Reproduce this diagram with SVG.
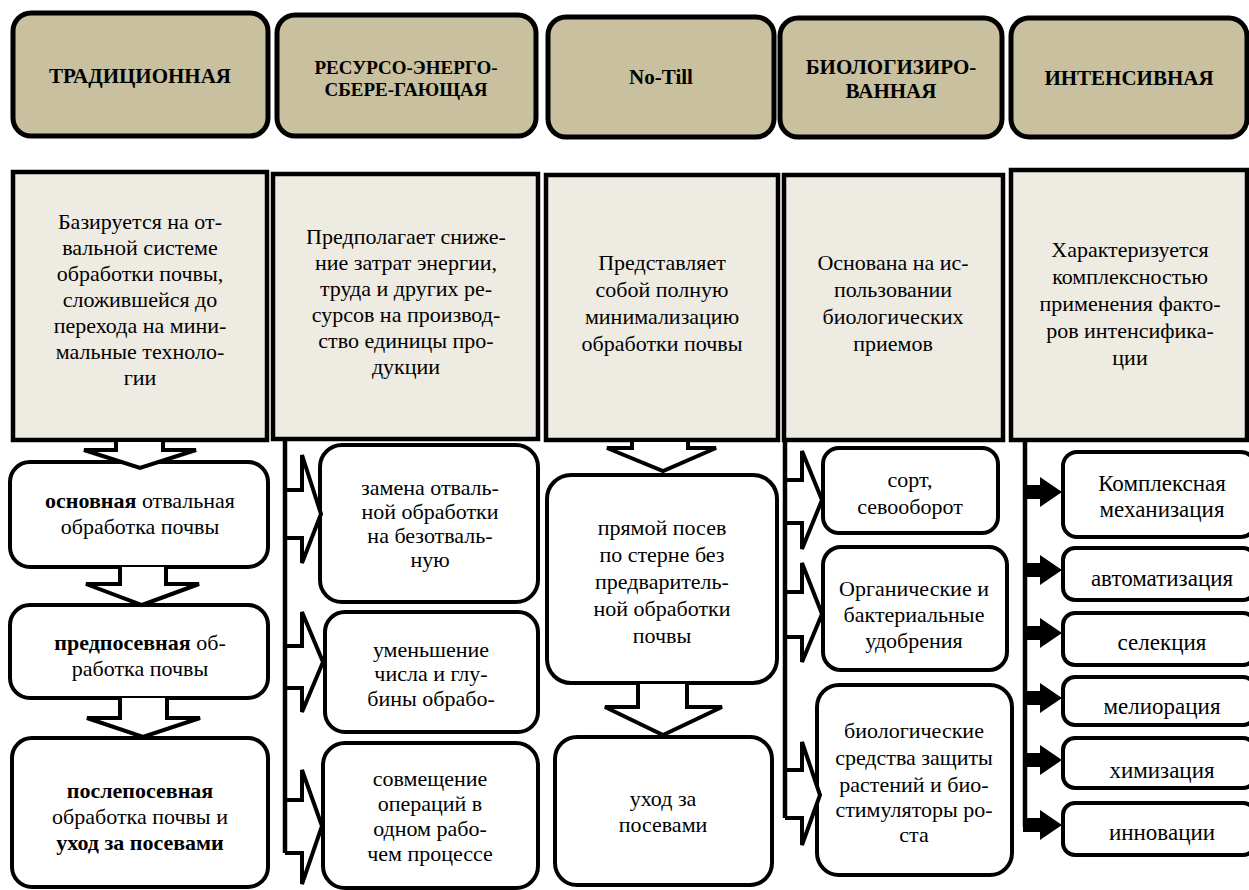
<svg xmlns="http://www.w3.org/2000/svg" width="1249" height="890" viewBox="0 0 1249 890">
<defs>
<style>
.hdr{fill:#c8c09e;stroke:#000;stroke-width:5}
.desc{fill:#eeebe3;stroke:#000;stroke-width:4.5}
.box{fill:#fff;stroke:#000;stroke-width:4}
.harr{fill:#fff;stroke:#000;stroke-width:4}
.ln{fill:none;stroke:#000;stroke-width:4.5}
.sarr{fill:#000}
</style>
</defs>
<rect width="1249" height="890" fill="#fff"/>
<g id="h1"><rect class="hdr" x="13" y="13" width="255" height="123" rx="18"/><text style="font-family:'Times New Roman','Liberation Serif',Tinos,serif;font-weight:bold;font-size:21px" text-anchor="middle" x="140" y="83">ТРАДИЦИОННАЯ</text></g>
<g id="h2"><rect class="hdr" x="277" y="15" width="259" height="121" rx="18"/><text style="font-family:'Times New Roman','Liberation Serif',Tinos,serif;font-weight:bold;font-size:19px" text-anchor="middle" x="406" y="74">РЕСУРСО-ЭНЕРГО-</text><text style="font-family:'Times New Roman','Liberation Serif',Tinos,serif;font-weight:bold;font-size:19px" text-anchor="middle" x="406" y="96">СБЕРЕ-ГАЮЩАЯ</text></g>
<g id="h3"><rect class="hdr" x="548" y="17" width="226" height="120" rx="18"/><text style="font-family:'Times New Roman','Liberation Serif',Tinos,serif;font-weight:bold;font-size:21px" text-anchor="middle" x="661" y="84">No-Till</text></g>
<g id="h4"><rect class="hdr" x="780" y="18" width="222" height="119" rx="18"/><text style="font-family:'Times New Roman','Liberation Serif',Tinos,serif;font-weight:bold;font-size:21px" text-anchor="middle" x="891" y="74">БИОЛОГИЗИРО-</text><text style="font-family:'Times New Roman','Liberation Serif',Tinos,serif;font-weight:bold;font-size:21px" text-anchor="middle" x="891" y="98">ВАННАЯ</text></g>
<g id="h5"><rect class="hdr" x="1011" y="18" width="236" height="119" rx="18"/><text style="font-family:'Times New Roman','Liberation Serif',Tinos,serif;font-weight:bold;font-size:21px" text-anchor="middle" x="1129" y="85">ИНТЕНСИВНАЯ</text></g>
<g id="d1"><rect class="desc" x="13" y="172" width="254" height="268"/>
<text style="font-family:'Times New Roman','Liberation Serif',Tinos,serif;font-size:22px" text-anchor="middle"><tspan x="140" y="229">Базируется на от-</tspan><tspan x="140" y="255">вальной системе</tspan><tspan x="140" y="281">обработки почвы,</tspan><tspan x="140" y="307">сложившейся до</tspan><tspan x="140" y="333">перехода на мини-</tspan><tspan x="140" y="359">мальные техноло-</tspan><tspan x="140" y="385">гии</tspan></text></g>
<g id="d2"><rect class="desc" x="273" y="174" width="265" height="265"/>
<text style="font-family:'Times New Roman','Liberation Serif',Tinos,serif;font-size:22px" text-anchor="middle"><tspan x="406" y="244">Предполагает сниже-</tspan><tspan x="406" y="270">ние затрат энергии,</tspan><tspan x="406" y="296">труда и других ре-</tspan><tspan x="406" y="322">сурсов на производ-</tspan><tspan x="406" y="348">ство единицы про-</tspan><tspan x="406" y="374">дукции</tspan></text></g>
<g id="d3"><rect class="desc" x="546" y="175" width="232" height="265"/>
<text style="font-family:'Times New Roman','Liberation Serif',Tinos,serif;font-size:22px" text-anchor="middle"><tspan x="662" y="270">Представляет</tspan><tspan x="662" y="297">собой полную</tspan><tspan x="662" y="324">минимализацию</tspan><tspan x="662" y="351">обработки почвы</tspan></text></g>
<g id="d4"><rect class="desc" x="784" y="175" width="219" height="265"/>
<text style="font-family:'Times New Roman','Liberation Serif',Tinos,serif;font-size:22px" text-anchor="middle"><tspan x="893" y="270">Основана на ис-</tspan><tspan x="893" y="297">пользовании</tspan><tspan x="893" y="324">биологических</tspan><tspan x="893" y="351">приемов</tspan></text></g>
<g id="d5"><rect class="desc" x="1011" y="170" width="236" height="270"/>
<text style="font-family:'Times New Roman','Liberation Serif',Tinos,serif;font-size:22px" text-anchor="middle"><tspan x="1130" y="257">Характеризуется</tspan><tspan x="1130" y="284">комплексностью</tspan><tspan x="1130" y="311">применения факто-</tspan><tspan x="1130" y="338">ров интенсифика-</tspan><tspan x="1130" y="365">ции</tspan></text></g>
<g id="c1a"><rect class="box" x="10" y="462" width="258" height="105" rx="20"/>
<text style="font-family:'Times New Roman','Liberation Serif',Tinos,serif;font-size:22px" text-anchor="middle"><tspan x="140" y="508"><tspan font-weight="bold">основная</tspan> отвальная</tspan><tspan x="140" y="534">обработка почвы</tspan></text></g>
<g id="c1b"><rect class="box" x="10" y="605" width="258" height="93" rx="20"/>
<text style="font-family:'Times New Roman','Liberation Serif',Tinos,serif;font-size:22px" text-anchor="middle"><tspan x="140" y="650"><tspan font-weight="bold">предпосевная</tspan> об-</tspan><tspan x="140" y="676">работка почвы</tspan></text></g>
<g id="c1c"><rect class="box" x="12" y="738" width="256" height="149" rx="20"/>
<text style="font-family:'Times New Roman','Liberation Serif',Tinos,serif;font-size:22px" text-anchor="middle"><tspan x="140" y="798" font-weight="bold">послепосевная</tspan><tspan x="140" y="824">обработка почвы и</tspan><tspan x="140" y="850" font-weight="bold">уход за посевами</tspan></text></g>
<g id="c2a"><rect class="box" x="320" y="445" width="218" height="157" rx="22"/>
<text style="font-family:'Times New Roman','Liberation Serif',Tinos,serif;font-size:22px" text-anchor="middle"><tspan x="430" y="495">замена отваль-</tspan><tspan x="430" y="519">ной обработки</tspan><tspan x="430" y="543">на безотваль-</tspan><tspan x="430" y="567">ную</tspan></text></g>
<g id="c2b"><rect class="box" x="325" y="612" width="213" height="120" rx="20"/>
<text style="font-family:'Times New Roman','Liberation Serif',Tinos,serif;font-size:22px" text-anchor="middle"><tspan x="431" y="657">уменьшение</tspan><tspan x="431" y="681">числа и глу-</tspan><tspan x="431" y="706">бины обрабо-</tspan></text></g>
<g id="c2c"><rect class="box" x="323" y="743" width="215" height="145" rx="22"/>
<text style="font-family:'Times New Roman','Liberation Serif',Tinos,serif;font-size:22px" text-anchor="middle"><tspan x="430" y="786">совмещение</tspan><tspan x="430" y="811">операций в</tspan><tspan x="430" y="836">одном рабо-</tspan><tspan x="430" y="861">чем процессе</tspan></text></g>
<g id="c3a"><rect class="box" x="547" y="475" width="230" height="208" rx="24"/>
<text style="font-family:'Times New Roman','Liberation Serif',Tinos,serif;font-size:22px" text-anchor="middle"><tspan x="662" y="535">прямой посев</tspan><tspan x="662" y="562">по стерне без</tspan><tspan x="662" y="589">предваритель-</tspan><tspan x="662" y="616">ной обработки</tspan><tspan x="662" y="643">почвы</tspan></text></g>
<g id="c3b"><rect class="box" x="555" y="737" width="217" height="148" rx="22"/>
<text style="font-family:'Times New Roman','Liberation Serif',Tinos,serif;font-size:22px" text-anchor="middle"><tspan x="663" y="806">уход за</tspan><tspan x="663" y="832">посевами</tspan></text></g>
<g id="c4a"><rect class="box" x="823" y="448" width="175" height="85" rx="16"/>
<text style="font-family:'Times New Roman','Liberation Serif',Tinos,serif;font-size:22px" text-anchor="middle"><tspan x="910" y="487">сорт,</tspan><tspan x="910" y="514">севооборот</tspan></text></g>
<g id="c4b"><rect class="box" x="823" y="547" width="184" height="123" rx="18"/>
<text style="font-family:'Times New Roman','Liberation Serif',Tinos,serif;font-size:22px" text-anchor="middle"><tspan x="914" y="596">Органические и</tspan><tspan x="914" y="622">бактериальные</tspan><tspan x="914" y="648">удобрения</tspan></text></g>
<g id="c4c"><rect class="box" x="817" y="685" width="195" height="190" rx="22"/>
<text style="font-family:'Times New Roman','Liberation Serif',Tinos,serif;font-size:22px" text-anchor="middle"><tspan x="914" y="738">биологические</tspan><tspan x="914" y="765">средства защиты</tspan><tspan x="914" y="792">растений и био-</tspan><tspan x="914" y="817">стимуляторы ро-</tspan><tspan x="914" y="842">ста</tspan></text></g>
<g id="c5a"><rect class="box" x="1063" y="452" width="192" height="85" rx="14"/>
<text style="font-family:'Times New Roman','Liberation Serif',Tinos,serif;font-size:23px" text-anchor="middle"><tspan x="1162" y="491">Комплексная</tspan><tspan x="1162" y="517">механизация</tspan></text></g>
<g id="c5b"><rect class="box" x="1063" y="548" width="192" height="52" rx="12"/><text style="font-family:'Times New Roman','Liberation Serif',Tinos,serif;font-size:23px" text-anchor="middle" x="1162" y="586">автоматизация</text></g>
<g id="c5c"><rect class="box" x="1063" y="613" width="192" height="52" rx="12"/><text style="font-family:'Times New Roman','Liberation Serif',Tinos,serif;font-size:23px" text-anchor="middle" x="1162" y="650">селекция</text></g>
<g id="c5d"><rect class="box" x="1063" y="677" width="192" height="48" rx="12"/><text style="font-family:'Times New Roman','Liberation Serif',Tinos,serif;font-size:23px" text-anchor="middle" x="1162" y="714">мелиорация</text></g>
<g id="c5e"><rect class="box" x="1063" y="738" width="192" height="50" rx="12"/><text style="font-family:'Times New Roman','Liberation Serif',Tinos,serif;font-size:23px" text-anchor="middle" x="1162" y="778">химизация</text></g>
<g id="c5f"><rect class="box" x="1063" y="803" width="192" height="52" rx="12"/><text style="font-family:'Times New Roman','Liberation Serif',Tinos,serif;font-size:23px" text-anchor="middle" x="1162" y="840">инновации</text></g>
<g id="connectors">
<path class="harr" d="M116,442 V450 H84 L140,468 L196,450 H163 V442"/>
<path class="harr" d="M120,567 V584 H86 L142,605 L199,584 H166 V567"/>
<path class="harr" d="M120,698 V718 H87 L143,737 L200,718 H167 V698"/>
<path class="harr" d="M285,490 H302 V455 L321,514 L302,563 V538 H285"/>
<path class="harr" d="M285,646 H302 V612 L323,662 L302,712 V688 H285"/>
<path class="harr" d="M285,800 H302 V770 L322,826 L302,884 V853 H285"/>
<path class="harr" d="M632,442 V448 H607 L663,471 L716,448 H688 V442"/>
<path class="harr" d="M638,684 V707 H605 L663,735 L722,707 H687 V684"/>
<path class="harr" d="M785,480 H802 V451 L822,500 L802,549 V523 H785"/>
<path class="harr" d="M785,592 H802 V563 L822,614 L802,662 V637 H785"/>
<path class="harr" d="M785,770 H802 V742 L820,795 L802,845 V818 H785"/>
<path class="ln" d="M285,440 V853"/>
<path class="ln" d="M785,440 V818"/>
<path class="ln" d="M1025,440 V827"/>
<path class="sarr" d="M1023,485 H1040 V477 L1062,492 L1040,507 V499 H1023 Z"/>
<path class="sarr" d="M1023,563 H1040 V555 L1062,570 L1040,585 V577 H1023 Z"/>
<path class="sarr" d="M1023,626 H1040 V618 L1062,633 L1040,648 V640 H1023 Z"/>
<path class="sarr" d="M1023,691 H1040 V683 L1062,698 L1040,713 V705 H1023 Z"/>
<path class="sarr" d="M1023,753 H1040 V745 L1062,760 L1040,775 V767 H1023 Z"/>
<path class="sarr" d="M1023,818 H1040 V810 L1062,825 L1040,840 V832 H1023 Z"/>
</g>
</svg>
